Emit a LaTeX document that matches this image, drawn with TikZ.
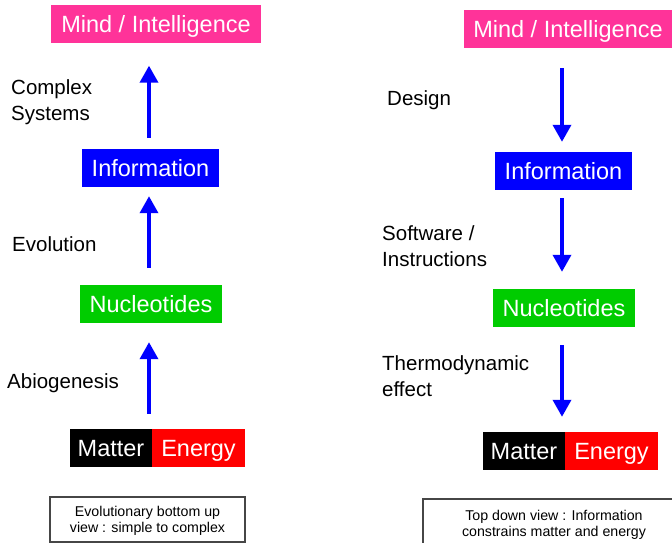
\documentclass[tikz,border=0pt]{standalone}
\usepackage{fontspec}
\setmainfont{Liberation Sans}
\usetikzlibrary{arrows.meta}
\definecolor{pinkbox}{RGB}{255,51,153}
\definecolor{bluebox}{RGB}{0,0,255}
\definecolor{greenbox}{RGB}{0,204,0}
\definecolor{redbox}{RGB}{255,0,0}
\definecolor{notegray}{RGB}{70,70,70}
\tikzset{
  boxnode/.style={inner sep=0pt, minimum height=38pt, text height=16.5pt, text depth=0pt, text=white, font=\fontsize{23.5}{27}\selectfont},
  lbl/.style={anchor=west, align=left, inner sep=0pt, font=\fontsize{20.5}{26}\selectfont},
  notebox/.style={draw=notegray, line width=1.3pt, inner sep=0pt, align=center, font=\fontsize{14.2}{16.5}\selectfont},
  notetext/.style={align=center, inner sep=0pt, font=\fontsize{14.2}{16.5}\selectfont},
  arr/.style={draw=bluebox, line width=3.6pt, -{Triangle[width=18pt,length=17pt]}}
}
\begin{document}
\begin{tikzpicture}[x=1pt,y=-1pt]
\clip (0,0) rectangle (672,543);
\fill[white] (0,0) rectangle (672,543);
% left column
\node[boxnode, fill=pinkbox, minimum width=210pt] (mindL) at (156,24.5) {Mind / Intelligence};
\node[boxnode, fill=bluebox, minimum width=137pt] (infoL) at (150.5,168) {Information};
\node[boxnode, fill=greenbox, minimum width=142pt] (nucL) at (151,304) {Nucleotides};
\node[boxnode, fill=black, minimum width=82pt] (matterL) at (111,448) {Matter};
\node[boxnode, fill=redbox, minimum width=93pt] (energyL) at (198.5,448) {Energy};
\node[notebox, minimum width=195pt, minimum height=45pt] (noteL) at (147.5,519.5) {};
\node[notetext] (noteLtext) at (147.5,521) {Evolutionary bottom up\\view : simple to complex};
\node[lbl] (complex) at (11,102) {Complex\\Systems};
\node[lbl] (evol) at (12,244) {Evolution};
\node[lbl] (abio) at (7,383) {Abiogenesis};
\draw[arr] ([xshift=-1.5pt,yshift=11pt]infoL.north) -- ([xshift=-1.5pt,yshift=-22pt]infoL.north |- mindL.south);
\draw[arr] ([xshift=-2pt,yshift=17pt]nucL.north) -- ([xshift=-2pt,yshift=-9pt]nucL.north |- infoL.south);
\draw[arr] ([xshift=-2pt,yshift=15pt]nucL.south |- matterL.north) -- ([xshift=-2pt,yshift=-19pt]nucL.south);
% right column
\node[boxnode, fill=pinkbox, minimum width=208pt] (mindR) at (568,29) {Mind / Intelligence};
\node[boxnode, fill=bluebox, minimum width=137pt] (infoR) at (563.5,171) {Information};
\node[boxnode, fill=greenbox, minimum width=142pt] (nucR) at (564,308) {Nucleotides};
\node[boxnode, fill=black, minimum width=82pt] (matterR) at (524,451) {Matter};
\node[boxnode, fill=redbox, minimum width=93pt] (energyR) at (611.5,451) {Energy};
\node[notebox, minimum width=262pt, minimum height=62pt] (noteR) at (554,530) {};
\node[notetext] (noteRtext) at (554,525) {Top down view : Information\\constrains matter and energy};
\node[lbl] (design) at (387,100) {Design};
\node[lbl] (soft) at (382,246) {Software /\\Instructions};
\node[lbl] (thermo) at (382,376) {Thermodynamic\\effect};
\draw[arr] ([xshift=-1.5pt,yshift=-20pt]infoR.north |- mindR.south) -- ([xshift=-1.5pt,yshift=10pt]infoR.north);
\draw[arr] ([xshift=-2pt,yshift=-8pt]nucR.north |- infoR.south) -- ([xshift=-2pt,yshift=17pt]nucR.north);
\draw[arr] ([xshift=-2pt,yshift=-18pt]nucR.south) -- ([xshift=-2pt,yshift=15pt]nucR.south |- matterR.north);
\end{tikzpicture}
\end{document}
